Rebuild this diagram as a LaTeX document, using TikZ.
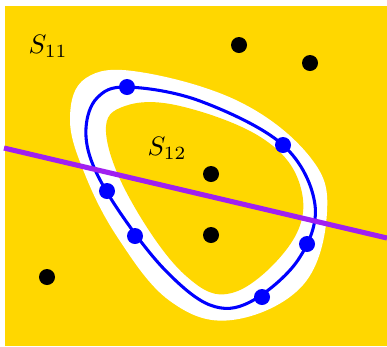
\documentclass[tikz,border=0pt]{standalone}
\begin{document}
\begin{tikzpicture}[x=0.375pt,y=-0.375pt,
  bdot/.style={circle,fill=black,inner sep=0pt,minimum size=6pt},
  udot/.style={circle,fill=blue,inner sep=0pt,minimum size=6pt},
  curveline/.style={draw=blue,line width=1.15pt},
  cutline/.style={draw=lpurple,line width=1.9pt}]
\definecolor{gold}{RGB}{255,215,0}
\definecolor{lpurple}{RGB}{160,32,240}
\useasboundingbox (0,0) rectangle (387,346);
\fill[gold] (5,6) rectangle (387,346);
% white band
\fill[white] plot[smooth cycle,tension=0.65] coordinates {
 (70,118) (86,78) (140,72) (240,102) (310,157) (327,212) (303,285)
 (232,320) (170,301) (118,238) (84,172)};
\fill[gold] plot[smooth cycle,tension=0.65] coordinates {
 (106,132) (125,106) (180,106) (262,138) (300,185) (293,240)
 (235,292) (185,275) (130,199)};
% blue curve
\draw[curveline] plot[smooth cycle,tension=0.6] coordinates {
 (86,128) (97,98) (127,87) (200,101) (283,145) (315,205) (298,260)
 (250,302) (210,305) (165,270) (121,214) (93,165)};
% cut line
\coordinate (L1) at (4,148);
\coordinate (L2) at (387,238);
\draw[cutline] (L1) -- (L2);
% blue points
\node[udot] (u1) at (127,87) {};
\node[udot] (u2) at (283,145) {};
\node[udot] (u3) at (107,191) {};
\node[udot] (u4) at (135,236) {};
\node[udot] (u5) at (262,297) {};
\node[udot] (u6) at (307,244) {};
% black points
\node[bdot] (b1) at (239,45) {};
\node[bdot] (b2) at (310,63) {};
\node[bdot] (b3) at (211,174) {};
\node[bdot] (b4) at (211,235) {};
\node[bdot] (b5) at (47,277) {};
% labels
\node (s11) at (48,46) {$S_{11}$};
\node (s12) at (167,148) {$S_{12}$};
\end{tikzpicture}
\end{document}
